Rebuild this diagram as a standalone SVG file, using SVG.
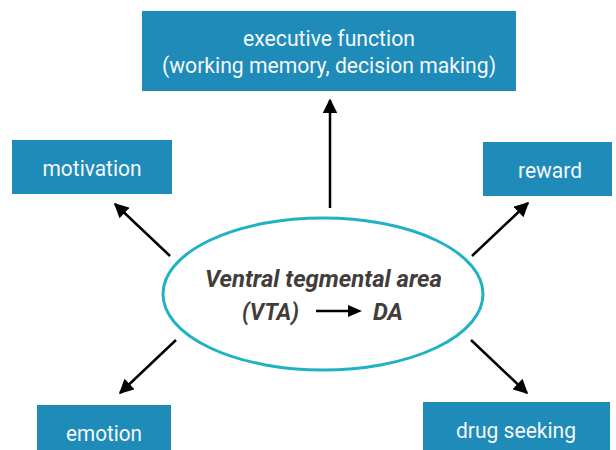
<svg xmlns="http://www.w3.org/2000/svg" width="616" height="450" viewBox="0 0 616 450">
<style>
.box{fill:#1f8bb9;}
.bt{fill:#f4f8fb;font-family:Roboto,"Liberation Sans",sans-serif;font-size:22px;text-anchor:middle;}
.ct{fill:#423d3b;font-family:Roboto,"Liberation Sans",sans-serif;font-size:24px;font-weight:bold;font-style:italic;}
.con{stroke:#000;stroke-width:2.5;fill:none;marker-end:url(#ah);}
</style>
<defs>
<marker id="ah" viewBox="0 0 10 10" refX="9" refY="5" markerWidth="6.2" markerHeight="5.8" orient="auto" markerUnits="strokeWidth">
<path d="M0,0 L10,5 L0,10 Z" fill="#000"/>
</marker>
</defs>
<rect width="616" height="450" fill="#fff"/>
<g id="connectors">
<line class="con" x1="330" y1="208" x2="330" y2="100"/>
<line class="con" x1="170" y1="256" x2="115" y2="204"/>
<line class="con" x1="472" y1="256" x2="528" y2="203"/>
<line class="con" x1="176" y1="340" x2="120" y2="393"/>
<line class="con" x1="471" y1="340" x2="527" y2="393"/>
</g>
<g id="vta">
<ellipse cx="323" cy="294" rx="160" ry="76" fill="#fff" stroke="#20b2c2" stroke-width="3"/>
<text class="ct" x="205" y="287" textLength="237" lengthAdjust="spacingAndGlyphs">Ventral tegmental area</text>
<text class="ct" x="242" y="320" textLength="57" lengthAdjust="spacingAndGlyphs">(VTA)</text>
<line x1="316" y1="311" x2="350" y2="311" stroke="#000" stroke-width="2.5"/>
<path d="M348,305 L362,311 L348,317 Z" fill="#000"/>
<text class="ct" x="373" y="320" textLength="30" lengthAdjust="spacingAndGlyphs">DA</text>
</g>
<g id="executive">
<rect class="box" x="142" y="11" width="374" height="80"/>
<text class="bt" x="329" y="46" textLength="172" lengthAdjust="spacingAndGlyphs">executive function</text>
<text class="bt" x="329" y="73" textLength="334" lengthAdjust="spacingAndGlyphs">(working memory, decision making)</text>
</g>
<g id="motivation">
<rect class="box" x="12" y="140" width="160" height="54"/>
<text class="bt" x="92" y="175.5" textLength="99" lengthAdjust="spacingAndGlyphs">motivation</text>
</g>
<g id="reward">
<rect class="box" x="483" y="142" width="129" height="54"/>
<text class="bt" x="550" y="178" textLength="64" lengthAdjust="spacingAndGlyphs">reward</text>
</g>
<g id="emotion">
<rect class="box" x="37" y="405" width="134" height="45"/>
<text class="bt" x="104" y="440.5" textLength="76" lengthAdjust="spacingAndGlyphs">emotion</text>
</g>
<g id="drug">
<rect class="box" x="423" y="402" width="187" height="48"/>
<text class="bt" x="516" y="438" textLength="120" lengthAdjust="spacingAndGlyphs">drug seeking</text>
</g>
</svg>
